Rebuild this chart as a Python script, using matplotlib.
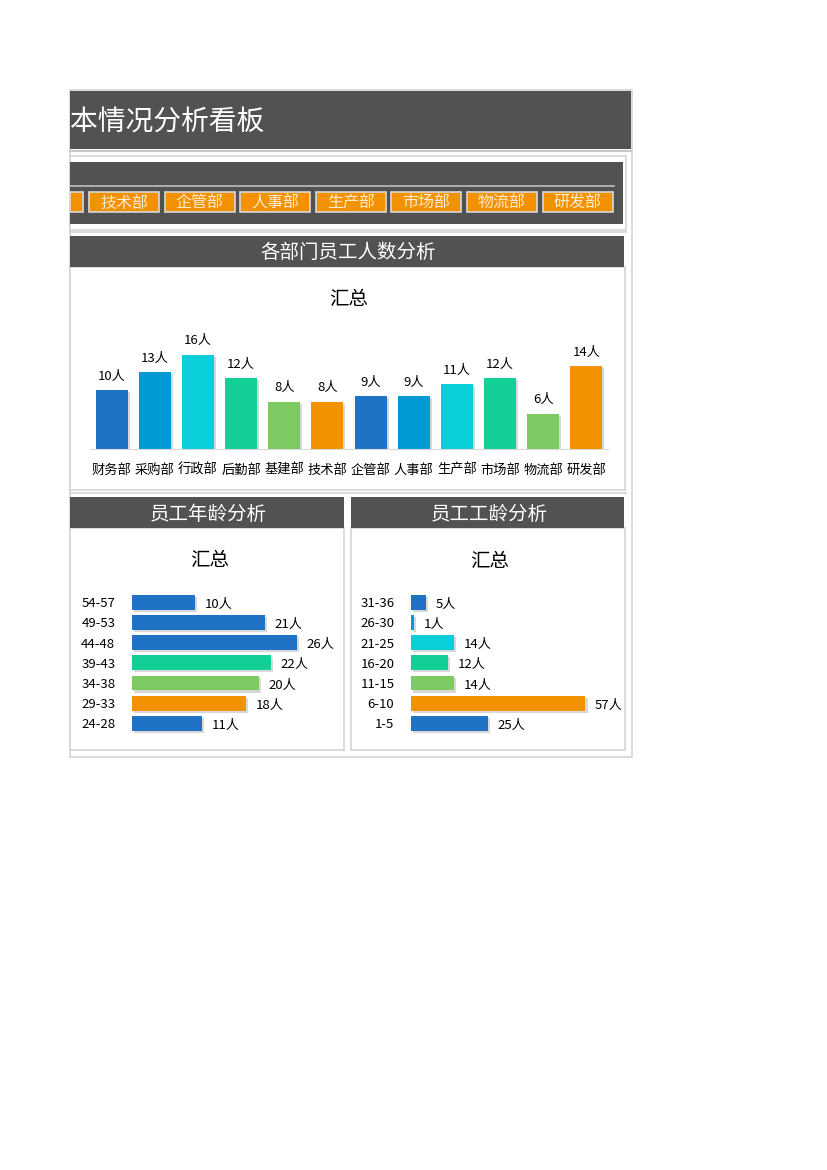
import matplotlib.pyplot as plt
import matplotlib.patheffects as pe
from matplotlib.patches import Rectangle

plt.rcParams['font.family'] = ['Noto Sans CJK SC', 'DejaVu Sans']

# data
depts = ['财务部', '采购部', '行政部', '后勤部', '基建部', '技术部',
         '企管部', '人事部', '生产部', '市场部', '物流部', '研发部']
dept_counts = [10, 13, 16, 12, 8, 8, 9, 9, 11, 12, 6, 14]

age_groups = ['24-28', '29-33', '34-38', '39-43', '44-48', '49-53', '54-57']
age_counts = [11, 18, 20, 22, 26, 21, 10]

tenure_groups = ['1-5', '6-10', '11-15', '16-20', '21-25', '26-30', '31-36']
tenure_counts = [25, 57, 14, 12, 14, 1, 5]

slicer_items = ['基建部', '技术部', '企管部', '人事部', '生产部', '市场部', '物流部', '研发部']

BLUE, SKY, CYAN, TEAL, LGREEN, ORANGE = '#1F72C4', '#009BD6', '#0ACFD8', '#12CF98', '#7ECA62', '#F39200'
palette = [BLUE, SKY, CYAN, TEAL, LGREEN, ORANGE]
age_colors = [BLUE, ORANGE, LGREEN, TEAL, BLUE, BLUE, BLUE]
tenure_colors = [BLUE, ORANGE, LGREEN, TEAL, CYAN, SKY, BLUE]

DARK = '#525252'
LINE = '#D4D4D4'
W, H = 827, 1170

fig = plt.figure(figsize=(W / 100, H / 100), dpi=100)
fig.patch.set_facecolor('white')

bg = fig.add_axes([0, 0, 1, 1])
bg.set_xlim(0, W)
bg.set_ylim(H, 0)
bg.axis('off')


def box(l, t, r, b, fc='none', ec='none', lw=1.0):
    bg.add_patch(Rectangle((l, t), r - l, b - t, facecolor=fc, edgecolor=ec, linewidth=lw))


def rect(l, t, r, b):
    return [l / W, 1 - b / H, (r - l) / W, (b - t) / H]


# outer frame and title bar
box(70, 90, 632, 757, ec=LINE, lw=1.2)
box(70, 91, 631, 149, fc=DARK)
bg.plot([70, 631], [151, 151], color='#C8C8C8', lw=1.5)
bg.text(70, 122, '本情况分析看板', color='white', fontsize=20, va='center', ha='left')

# slicer
box(70, 156, 626, 230, fc='white', ec=LINE, lw=1.2)
box(70, 162, 623, 224, fc=DARK)
bg.plot([70, 614], [186, 186], color='#BFBFBF', lw=1.2)
step = 75.6
for i, name in enumerate(slicer_items):
    l = 89 + (i - 1) * step
    r = l + 70
    box(max(l, 70), 192, r, 212, fc=ORANGE, ec='#D9D9D9', lw=1.2)
    cx = (l + r) / 2
    if cx > 70:
        bg.text(cx, 203, name, color='#FDEBD0', fontsize=11.5, ha='center', va='center',
                fontweight='light')
bg.plot([70, 626], [232, 232], color=LINE, lw=1.2)

# panel headers and panels
box(70, 267, 625, 490, fc='white', ec=LINE, lw=1.2)
box(70, 236, 624, 267, fc=DARK)
bg.text(348, 253, '各部门员工人数分析', color='white', fontsize=14, ha='center', va='center')
bg.plot([70, 626], [493, 493], color=LINE, lw=1.2)

box(70, 528, 344, 750, fc='white', ec=LINE, lw=1.2)
box(70, 497, 344, 528, fc=DARK)
bg.text(208, 514, '员工年龄分析', color='white', fontsize=14, ha='center', va='center')

box(351, 528, 625, 750, fc='white', ec=LINE, lw=1.2)
box(351, 497, 624, 528, fc=DARK)
bg.text(489, 514, '员工工龄分析', color='white', fontsize=14, ha='center', va='center')

bg.text(349, 299, '汇总', fontsize=14, ha='center', va='center', color='black')
bg.text(210, 560, '汇总', fontsize=14, ha='center', va='center', color='black')
bg.text(490, 561, '汇总', fontsize=14, ha='center', va='center', color='black')

shadow = [pe.SimplePatchShadow(offset=(1.5, -1.5), shadow_rgbFace='#808080', alpha=0.3), pe.Normal()]

# column chart
ymax = 18
ax1 = fig.add_axes(rect(90, 449 - ymax * 5.9, 608, 449))
ax1.patch.set_alpha(0)
bars = ax1.bar(range(len(depts)), dept_counts, width=0.74,
               color=[palette[i % 6] for i in range(len(depts))])
for b in bars:
    b.set_path_effects(shadow)
for t in ax1.bar_label(bars, labels=[f'{v}人' for v in dept_counts], padding=7.5, fontsize=9.5):
    t.set_va('baseline')
ax1.set_xlim(-0.5, len(depts) - 0.5)
ax1.set_ylim(0, ymax)
ax1.set_xticks(range(len(depts)))
ax1.set_xticklabels(depts, fontsize=9.5, va='baseline')
ax1.tick_params(axis='x', length=0, pad=18)
ax1.set_yticks([])
for s in ['top', 'left', 'right']:
    ax1.spines[s].set_visible(False)
ax1.spines['bottom'].set_color('#D9D9D9')


def hbar(left, scale, xmax, cats, vals, colors):
    sp = 20.17
    top, bottom = 602 - sp / 2, 723.5 + sp / 2
    ax = fig.add_axes(rect(left, top, left + xmax * scale, bottom))
    ax.patch.set_alpha(0)
    hb = ax.barh(range(len(cats)), vals, height=0.74, color=colors)
    for b in hb:
        b.set_path_effects(shadow)
    for t in ax.bar_label(hb, labels=[f'{v}人' for v in vals], padding=7, fontsize=9.5):
        t.set_va('center_baseline')
        x0, y0 = t.xyann
        t.xyann = (x0, y0 - 0.5)
    ax.set_xlim(0, xmax)
    ax.set_ylim(-0.5, len(cats) - 0.5)
    ax.set_yticks(range(len(cats)))
    ax.set_yticklabels(cats, fontsize=9.5, va='center_baseline')
    ax.tick_params(axis='y', length=0, pad=12)
    ax.set_xticks([])
    for s in ax.spines.values():
        s.set_visible(False)
    return ax


hbar(132, 6.33, 30, age_groups, age_counts, age_colors)
hbar(411, 3.06, 60, tenure_groups, tenure_counts, tenure_colors)

fig.savefig('out.png', dpi=100, facecolor='white')
